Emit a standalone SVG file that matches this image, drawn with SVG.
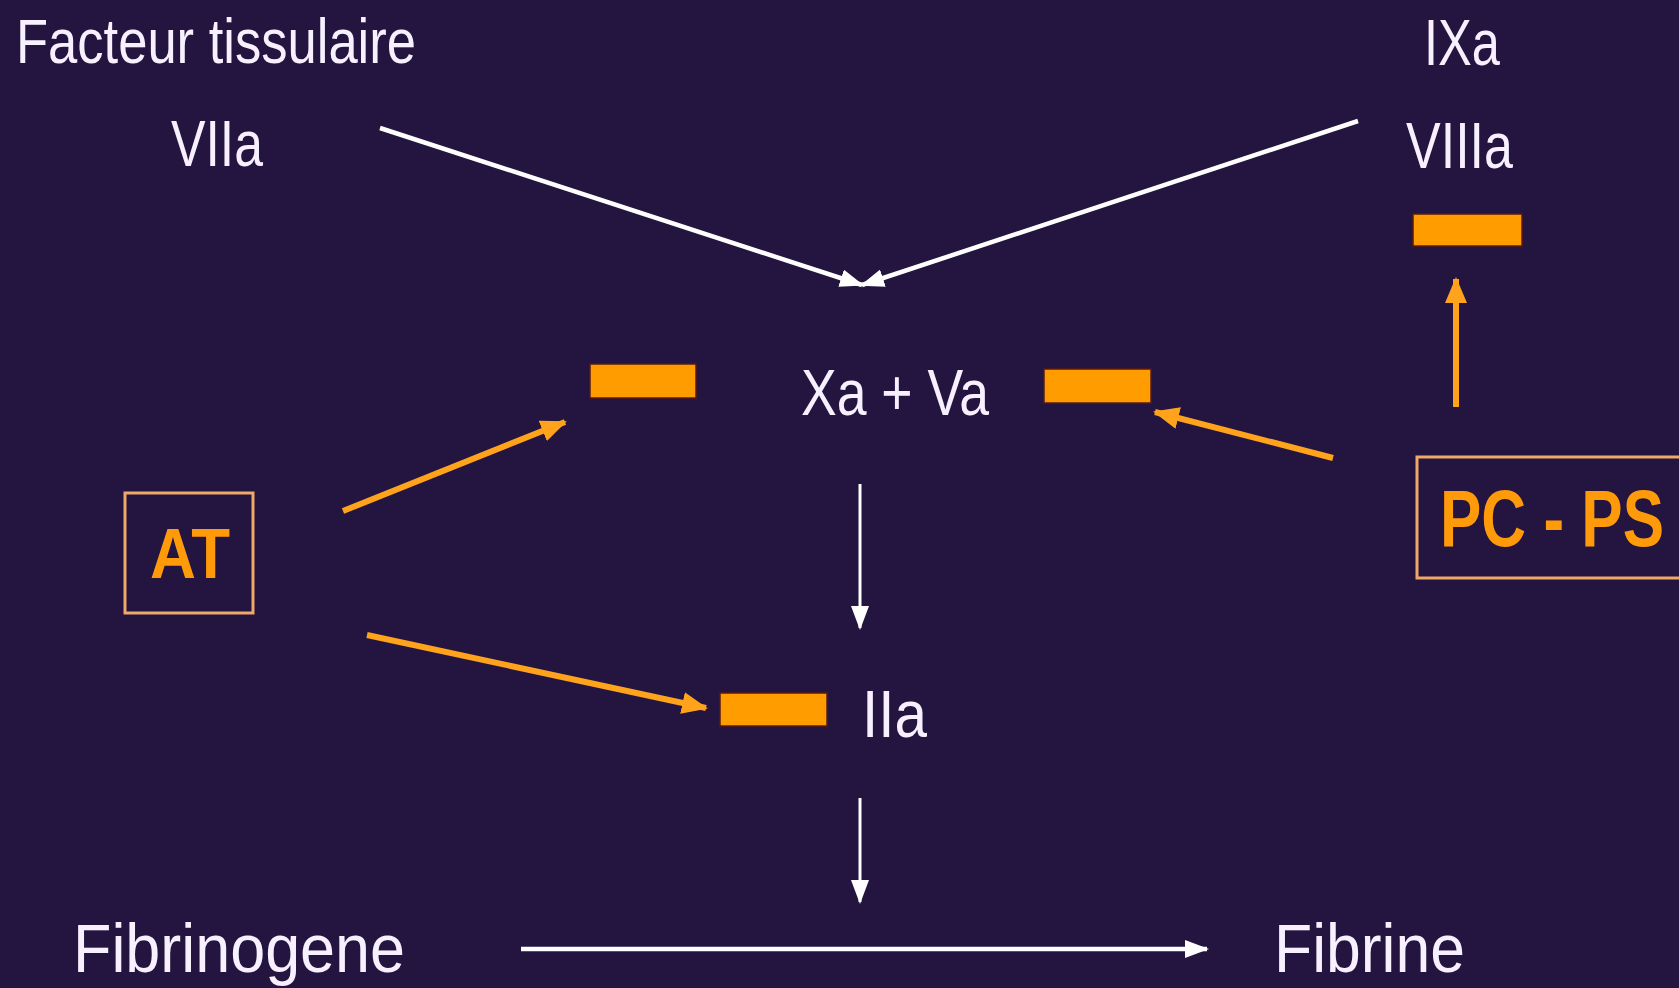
<svg xmlns="http://www.w3.org/2000/svg" width="1679" height="988" viewBox="0 0 1679 988">
<style>
.t{font-family:"Liberation Sans",Arial,sans-serif;fill:#F6F0FF}
.b{font-family:"Liberation Sans",Arial,sans-serif;font-weight:bold;fill:#FF9A0A}
.bar{fill:#FF9C00;stroke:#5A1A10;stroke-width:1.5}
.box{fill:none;stroke:#F0A868;stroke-width:3}
.w{stroke:#FFFFFF;stroke-width:4.5;fill:none}
.wt{stroke:#FFFFFF;stroke-width:3;fill:none}
.o{stroke:#FFA21C;stroke-width:6;fill:none}
</style>
<defs>
<marker id="aw" markerUnits="userSpaceOnUse" markerWidth="24" markerHeight="18" refX="22" refY="9" orient="auto"><path d="M0,0 L24,9 L0,18 z" fill="#FFFFFF"/></marker>
<marker id="ao" markerUnits="userSpaceOnUse" markerWidth="26" markerHeight="22" refX="24" refY="11" orient="auto"><path d="M0,0 L26,11 L0,22 z" fill="#FFA21C"/></marker>
</defs>
<rect x="0" y="0" width="1679" height="988" fill="#231440"/>
<g id="connectors">
<line class="w" x1="380" y1="128" x2="862" y2="285" marker-end="url(#aw)"/>
<line class="w" x1="1358" y1="121" x2="862" y2="285" marker-end="url(#aw)"/>
<line class="wt" x1="860" y1="484" x2="860" y2="628" marker-end="url(#aw)"/>
<line class="wt" x1="860" y1="798" x2="860" y2="902" marker-end="url(#aw)"/>
<line class="w" x1="521" y1="949" x2="1207" y2="949" marker-end="url(#aw)"/>
<line class="o" x1="343" y1="511" x2="565" y2="422" marker-end="url(#ao)"/>
<line class="o" x1="367" y1="635" x2="706" y2="708" marker-end="url(#ao)"/>
<line class="o" x1="1333" y1="458" x2="1155" y2="412" marker-end="url(#ao)"/>
<line class="o" x1="1456" y1="407" x2="1456" y2="279" marker-end="url(#ao)"/>
</g>
<g id="facteur"><text class="t" x="16" y="63" font-size="63" textLength="400" lengthAdjust="spacingAndGlyphs">Facteur tissulaire</text></g>
<g id="viia"><text class="t" x="171" y="166" font-size="64" textLength="92" lengthAdjust="spacingAndGlyphs">VIIa</text></g>
<g id="ixa"><text class="t" x="1424" y="65" font-size="64" textLength="76" lengthAdjust="spacingAndGlyphs">IXa</text></g>
<g id="viiia"><text class="t" x="1406" y="168" font-size="64" textLength="107" lengthAdjust="spacingAndGlyphs">VIIIa</text></g>
<g id="bar-viiia"><rect class="bar" x="1413" y="214" width="109" height="32"/></g>
<g id="xava"><text class="t" x="801" y="415" font-size="64" textLength="188" lengthAdjust="spacingAndGlyphs">Xa + Va</text></g>
<g id="bar-left"><rect class="bar" x="590" y="364" width="106" height="34"/></g>
<g id="bar-right"><rect class="bar" x="1044" y="369" width="107" height="34"/></g>
<g id="at"><rect class="box" x="125" y="493" width="128" height="120"/><text class="b" x="150" y="578" font-size="70" textLength="80" lengthAdjust="spacingAndGlyphs">AT</text></g>
<g id="pcps"><rect class="box" x="1417" y="457" width="270" height="121"/><text class="b" transform="translate(1440,546) scale(1,1.3)" x="0" y="0" font-size="62" textLength="224" lengthAdjust="spacingAndGlyphs">PC - PS</text></g>
<g id="bar-iia"><rect class="bar" x="720" y="693" width="107" height="33"/></g>
<g id="iia"><text class="t" x="862" y="737" font-size="66" textLength="65" lengthAdjust="spacingAndGlyphs">IIa</text></g>
<g id="fibrinogene"><text class="t" x="73" y="972" font-size="68" textLength="332" lengthAdjust="spacingAndGlyphs">Fibrinogene</text></g>
<g id="fibrine"><text class="t" x="1274" y="972" font-size="68" textLength="191" lengthAdjust="spacingAndGlyphs">Fibrine</text></g>
</svg>
